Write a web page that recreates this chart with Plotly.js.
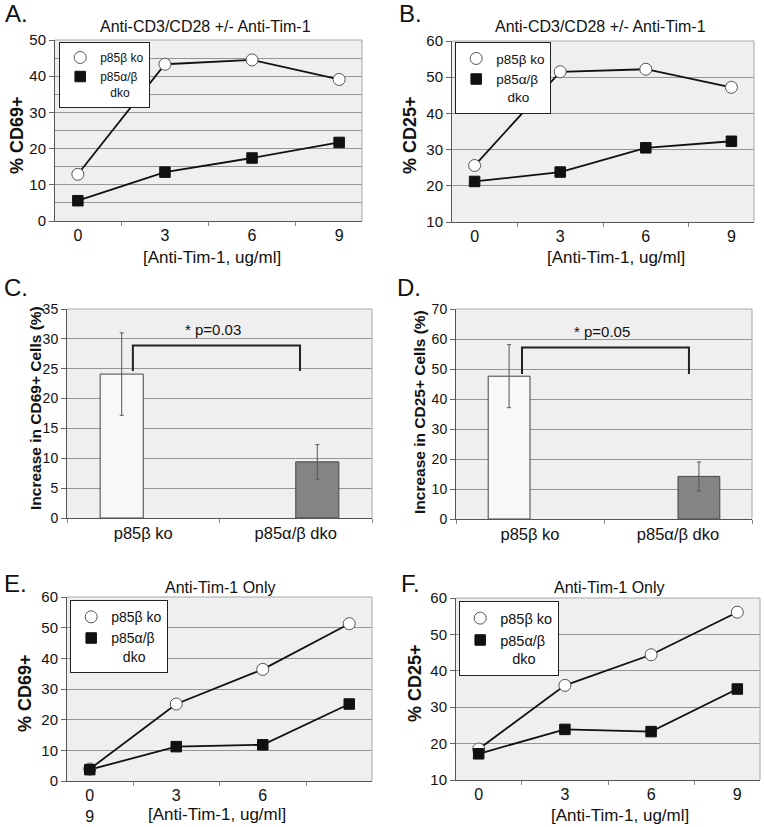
<!DOCTYPE html>
<html>
<head>
<meta charset="utf-8">
<script src="https://cdn.plot.ly/plotly-3.0.1.min.js"></script>
<style>html,body{margin:0;padding:0;background:#fff;}#chart{width:764px;height:827px;}</style>
</head>
<body>
<div id="chart"></div>
<script>
// ---------- data ----------
const DOSE = ['0', '3', '6', '9'];
const DOSE_TEXT_E = ['0<br>9', '3', '6', ''];
const SERIES = ['p85β ko', 'p85α/β<br>\u00a0\u00a0\u00a0dko'];
const GROUPS = ['p85β ko', 'p85α/β dko'];

const A_KO  = [12.9, 43.3, 44.5, 39.1];
const A_DKO = [5.6, 13.5, 17.4, 21.7];
const B_KO  = [25.6, 51.5, 52.2, 47.2];
const B_DKO = [21.2, 23.8, 30.5, 32.3];
const C_MEAN = [24.1, 9.4];
const C_ERR  = [6.9, 2.9];
const D_MEAN = [47.6, 14.2];
const D_ERR  = [10.5, 4.8];
const E_KO  = [3.9, 25.1, 36.4, 51.3];
const E_DKO = [3.7, 11.2, 11.8, 25.1];
const F_KO  = [18.5, 36.0, 44.4, 56.1];
const F_DKO = [17.2, 23.9, 23.3, 35.0];

const P_C = '* p=0.03';
const P_D = '* p=0.05';
const TITLE_TOP = 'Anti-CD3/CD28 +/- Anti-Tim-1';
const TITLE_BOTTOM = 'Anti-Tim-1 Only';
const XTITLE = '[Anti-Tim-1, ug/ml]';

// ---------- helpers ----------
const W = 764, H = 827;
const FONT = 'Liberation Sans, Arial, Helvetica, sans-serif';
const px = v => v / W;
const py = v => 1 - v / H;

function lineTraces(ko, dko, n, legendId) {
  const xa = 'x' + (n === 1 ? '' : n), ya = 'y' + (n === 1 ? '' : n);
  const ln = {color: '#111', width: 1.8};
  return [
    {type: 'scatter', mode: 'lines', x: DOSE, y: ko, xaxis: xa, yaxis: ya,
     showlegend: false, line: ln, hoverinfo: 'skip'},
    {type: 'scatter', mode: 'lines', x: DOSE, y: dko, xaxis: xa, yaxis: ya,
     showlegend: false, line: ln, hoverinfo: 'skip'},
    {type: 'scatter', mode: 'markers', x: DOSE, y: ko, name: SERIES[0],
     xaxis: xa, yaxis: ya, legend: legendId, cliponaxis: false,
     marker: {symbol: 'circle', size: 12, color: '#ffffff', line: {color: '#555', width: 1}}},
    {type: 'scatter', mode: 'markers', x: DOSE, y: dko, name: SERIES[1],
     xaxis: xa, yaxis: ya, legend: legendId, cliponaxis: false,
     marker: {symbol: 'square', size: 10.5, color: '#111', line: {color: '#111', width: 1}}}
  ];
}

function barTraces(mean, err, n) {
  const xa = 'x' + n, ya = 'y' + n;
  return [
    {type: 'bar', x: GROUPS, y: [mean[0], null], xaxis: xa, yaxis: ya, showlegend: false,
     marker: {color: '#f8f8f8', line: {color: '#444', width: 1}},
     error_y: {type: 'data', array: [err[0], null], color: '#555', thickness: 1, width: 2}},
    {type: 'bar', x: GROUPS, y: [null, mean[1]], xaxis: xa, yaxis: ya, showlegend: false,
     marker: {color: '#848484', line: {color: '#444', width: 1}},
     error_y: {type: 'data', array: [null, err[1]], color: '#555', thickness: 1, width: 2}}
  ];
}

const data = [].concat(
  lineTraces(A_KO, A_DKO, 1, 'legend'),
  lineTraces(B_KO, B_DKO, 2, 'legend2'),
  barTraces(C_MEAN, C_ERR, 3),
  barTraces(D_MEAN, D_ERR, 4),
  lineTraces(E_KO, E_DKO, 5, 'legend3'),
  lineTraces(F_KO, F_DKO, 6, 'legend4')
);

function xaxis(l, r, anchor, extra) {
  return Object.assign({
    domain: [px(l), px(r)], anchor: anchor, type: 'category',
    tickson: 'boundaries', ticks: 'outside', ticklen: 4, tickcolor: '#888',
    showline: true, linecolor: '#555', linewidth: 1, showgrid: false, zeroline: false,
    tickfont: {family: FONT, size: 16, color: '#111'}, fixedrange: true
  }, extra || {});
}
function yaxis(t, b, anchor, range, dtick, minor, extra) {
  const ax = {
    domain: [py(b), py(t)], anchor: anchor, range: range, dtick: dtick, tick0: 0,
    ticks: 'outside', ticklen: 5, tickcolor: '#666',
    showline: true, linecolor: '#555', linewidth: 1,
    showgrid: true, gridcolor: '#959595', gridwidth: 1, zeroline: false,
    tickfont: {family: FONT, size: 15, color: '#111'}, fixedrange: true
  };
  if (minor) ax.minor = {dtick: minor, tick0: 0, showgrid: true, gridcolor: '#959595', gridwidth: 1, ticks: ''};
  return Object.assign(ax, extra || {});
}

function ann(text, x, y, size, opts) {
  return Object.assign({text: text, xref: 'paper', yref: 'paper', x: px(x), y: py(y),
    showarrow: false, xanchor: 'center', yanchor: 'middle',
    font: {family: FONT, size: size, color: '#111'}}, opts || {});
}

function legend(l, t, size) {
  return {x: px(l), y: py(t), xanchor: 'left', yanchor: 'top', xref: 'paper', yref: 'paper',
    bgcolor: '#ffffff', bordercolor: '#222', borderwidth: 1.2, valign: 'top',
    font: {family: FONT, size: size, color: '#111'}, itemwidth: 30, tracegroupgap: 0,
    traceorder: 'normal'};
}

function frame(n) {
  const s = n === 1 ? '' : String(n);
  const base = {type: 'line', xref: 'x' + s + ' domain', yref: 'y' + s + ' domain',
    line: {color: '#a8a8a8', width: 1}, layer: 'above'};
  return [Object.assign({}, base, {x0: 0, x1: 1, y0: 1, y1: 1}),
          Object.assign({}, base, {x0: 1, x1: 1, y0: 0, y1: 1})];
}

function bracket(n, xl, xr, ytop, ybase) {
  return {type: 'path', xref: 'x' + n + ' domain', yref: 'y' + n,
    path: `M ${xl},${ybase} L ${xl},${ytop} L ${xr},${ytop} L ${xr},${ybase}`,
    line: {color: '#222', width: 2}, layer: 'above'};
}

const layout = {
  width: W, height: H, margin: {l: 0, r: 0, t: 0, b: 0},
  paper_bgcolor: '#ffffff', plot_bgcolor: '#efefef',
  font: {family: FONT, color: '#111'},
  barmode: 'group', bargap: 0.435, bargroupgap: 0,
  showlegend: true,
  xaxis:  xaxis(55, 362, 'y'),
  yaxis:  yaxis(40, 221, 'x', [0, 50], 10, 5),
  xaxis2: xaxis(452, 754, 'y2'),
  yaxis2: yaxis(41, 222, 'x2', [10, 60], 10),
  xaxis3: xaxis(67, 372, 'y3', {tickfont: {family: FONT, size: 16.5, color: '#111'}}),
  yaxis3: yaxis(309, 518, 'x3', [0, 35], 5, null, {tickfont: {family: FONT, size: 14, color: '#111'}}),
  xaxis4: xaxis(456, 752, 'y4', {tickfont: {family: FONT, size: 16.5, color: '#111'}}),
  yaxis4: yaxis(309, 519, 'x4', [0, 70], 10, null, {tickfont: {family: FONT, size: 14, color: '#111'}}),
  xaxis5: xaxis(67, 372, 'y5', {tickmode: 'array', tickvals: DOSE, ticktext: DOSE_TEXT_E}),
  yaxis5: yaxis(597, 781, 'x5', [0, 60], 10),
  xaxis6: xaxis(456, 760, 'y6'),
  yaxis6: yaxis(598, 780, 'x6', [10, 60], 10),
  legend:  legend(59, 42, 12),
  legend2: legend(455, 42, 13.5),
  legend3: legend(70, 600, 14),
  legend4: legend(459, 601, 14.5),
  shapes: [].concat(frame(1), frame(2), frame(3), frame(4), frame(5), frame(6),
    [bracket(3, 0.216, 0.764, 28.9, 24.6), bracket(4, 0.223, 0.787, 57.2, 48.3)]),
  annotations: [
    // panel letters
    ann('A.', 3, 14, 24, {xanchor: 'left'}),
    ann('B.', 397, 14, 24, {xanchor: 'left'}),
    ann('C.', 2, 288, 24, {xanchor: 'left'}),
    ann('D.', 395, 288, 24, {xanchor: 'left'}),
    ann('E.', 2, 583, 24, {xanchor: 'left'}),
    ann('F.', 399, 583, 24, {xanchor: 'left'}),
    // chart titles
    ann(TITLE_TOP, 206, 26, 16),
    ann(TITLE_TOP, 600, 26, 16),
    ann(TITLE_BOTTOM, 220, 587, 16),
    ann(TITLE_BOTTOM, 609, 587, 16),
    // x titles
    ann(XTITLE, 212, 257, 17),
    ann(XTITLE, 616, 257, 17),
    ann(XTITLE, 217, 814, 17),
    ann(XTITLE, 620, 815, 17),
    // y titles
    ann('<b>% CD69+</b>', 17, 135, 18, {textangle: -90}),
    ann('<b>% CD25+</b>', 410, 135, 18, {textangle: -90}),
    ann('<b>Increase in CD69+ Cells (%)</b>', 35, 408, 15.5, {textangle: -90}),
    ann('<b>Increase in CD25+ Cells (%)</b>', 419, 412, 15.5, {textangle: -90}),
    ann('<b>% CD69+</b>', 25, 693, 18, {textangle: -90}),
    ann('<b>% CD25+</b>', 415, 683, 18, {textangle: -90}),
    // significance labels
    {text: P_C, xref: 'x3 domain', yref: 'y3', x: 0.479, y: 31.5, showarrow: false,
     xanchor: 'center', yanchor: 'middle', font: {family: FONT, size: 15, color: '#111'}},
    {text: P_D, xref: 'x4 domain', yref: 'y4', x: 0.493, y: 62.6, showarrow: false,
     xanchor: 'center', yanchor: 'middle', font: {family: FONT, size: 15, color: '#111'}}
  ]
};

Plotly.newPlot('chart', data, layout, {staticPlot: true, displayModeBar: false});
</script>
</body>
</html>
